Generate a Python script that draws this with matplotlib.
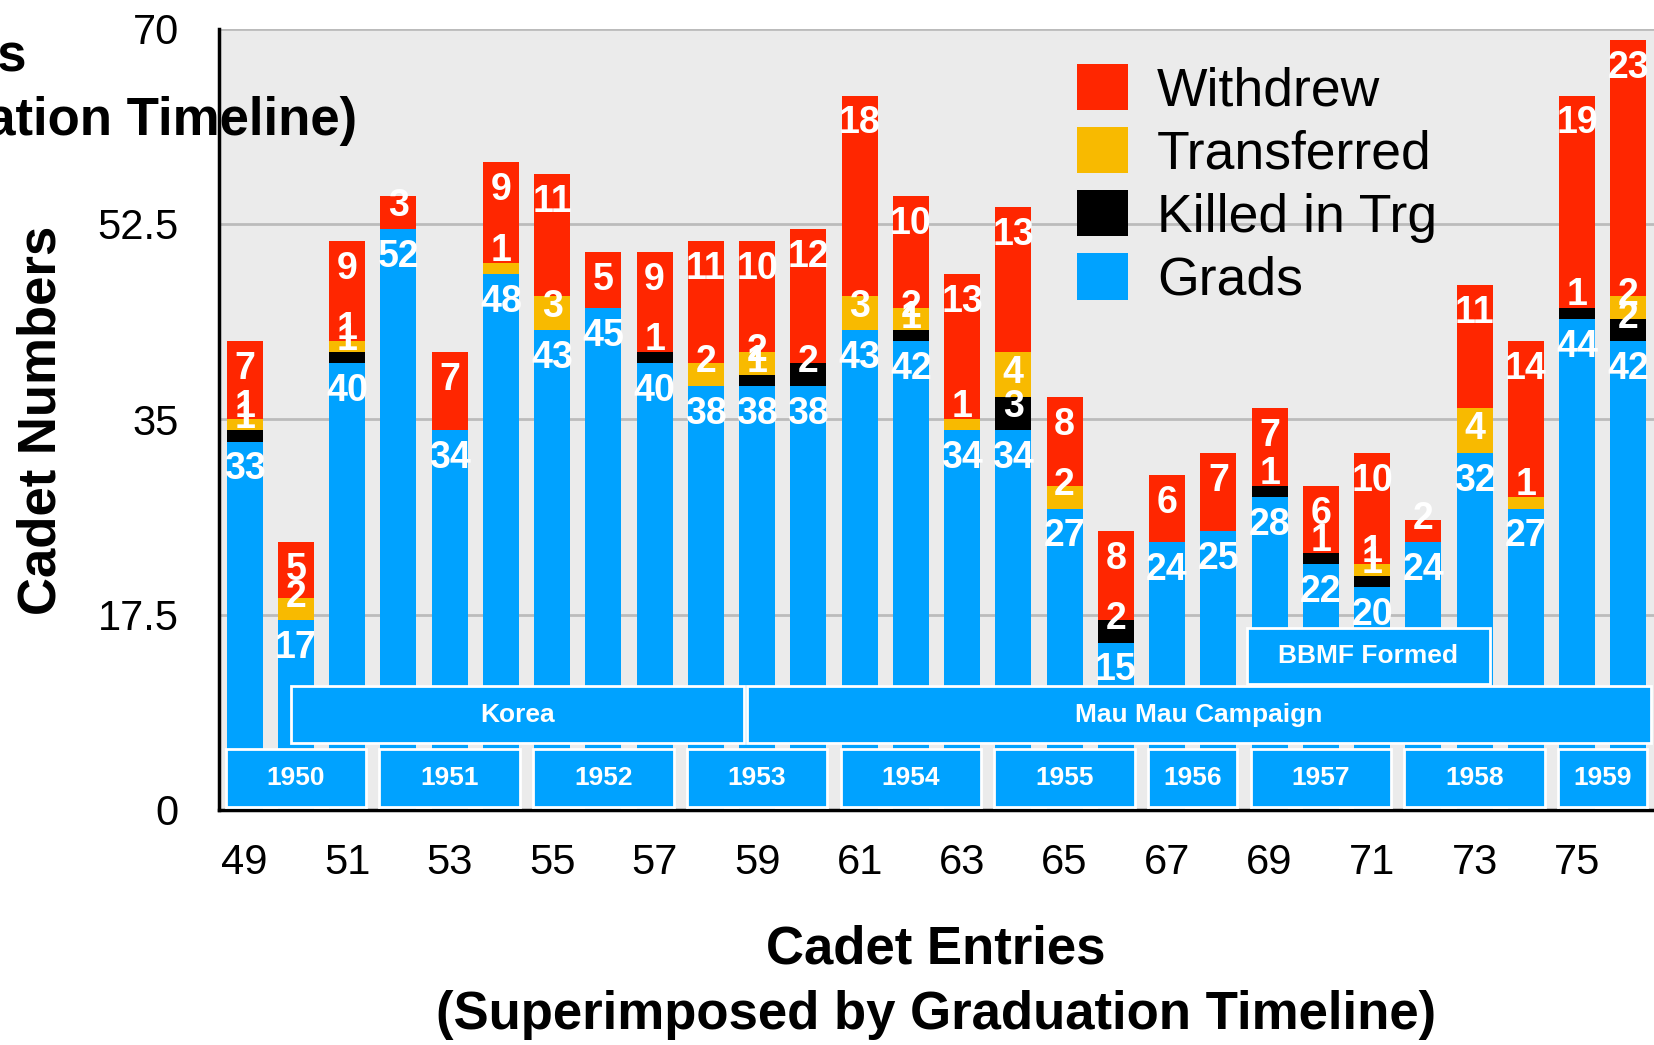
import matplotlib.pyplot as plt
from matplotlib.patches import Rectangle

plt.rcParams['font.family'] = ['Liberation Sans', 'DejaVu Sans']

# cadet entry numbers and what happened to each entry
entries = [49, 50, 51, 52, 53, 54, 55, 56, 57, 58, 59, 60, 61, 62,
           63, 64, 65, 66, 67, 68, 69, 70, 71, 72, 73, 74, 75, 76]
grads = [33, 17, 40, 52, 34, 48, 43, 45, 40, 38, 38, 38, 43, 42,
         34, 34, 27, 15, 24, 25, 28, 22, 20, 24, 32, 27, 44, 42]
killed = [1, 0, 1, 0, 0, 0, 0, 0, 1, 0, 1, 2, 0, 1,
          0, 3, 0, 2, 0, 0, 1, 1, 1, 0, 0, 0, 1, 2]
transferred = [1, 2, 1, 0, 0, 1, 3, 0, 0, 2, 2, 0, 3, 2,
               1, 4, 2, 0, 0, 0, 0, 0, 1, 0, 4, 1, 0, 2]
withdrew = [7, 5, 9, 3, 7, 9, 11, 5, 9, 11, 10, 12, 18, 10,
            13, 13, 8, 8, 6, 7, 7, 6, 10, 2, 11, 14, 19, 23]

# graduation years: first and last entry graduating that year
grad_years = ['1950', '1951', '1952', '1953', '1954',
              '1955', '1956', '1957', '1958', '1959']
year_first = [49, 52, 55, 58, 61, 64, 67, 69, 72, 75]
year_last = [51, 54, 57, 60, 63, 66, 68, 71, 74, 76]

# campaigns over the timeline (in entry units)
campaigns = ['Korea', 'Mau Mau Campaign']
campaign_start = [49.9, 58.8]
campaign_end = [58.75, 76.45]
events = ['BBMF Formed']
event_start = [68.55]
event_end = [73.3]

BLUE = '#00A2FF'
colors = {'Grads': BLUE, 'Killed in Trg': '#000000',
          'Transferred': '#F8BA00', 'Withdrew': '#FF2600'}

fig = plt.figure(figsize=(16.54, 10.45), dpi=100)
ax = fig.add_axes([0.1324, 0.2249, 0.8676, 0.7478])
ax.set_facecolor('#EBEBEB')

series = [('Grads', grads), ('Killed in Trg', killed),
          ('Transferred', transferred), ('Withdrew', withdrew)]
bottom = [0] * len(entries)
handles = {}
for name, vals in series:
    bars = ax.bar(entries, vals, width=0.7, bottom=bottom,
                  color=colors[name], edgecolor='none', zorder=2)
    handles[name] = bars
    for x, b, v in zip(entries, bottom, vals):
        if v > 0:
            y = max(b + v - 2.5, b + 2.1)
            ax.text(x, y, str(v), ha='center', va='center', color='white',
                    fontsize=27, fontweight='bold', zorder=4)
    bottom = [b + v for b, v in zip(bottom, vals)]


def timeline_box(x0, x1, y0, y1, label):
    ax.add_patch(Rectangle((x0, y0), x1 - x0, y1 - y0, facecolor=BLUE,
                           edgecolor='white', linewidth=2, zorder=5))
    ax.text((x0 + x1) / 2, (y0 + y1) / 2, label, ha='center', va='center',
            color='white', fontsize=19, fontweight='bold', zorder=6)


for lab, a, b in zip(grad_years, year_first, year_last):
    timeline_box(a - 0.37, b + 0.37, 0.3, 5.5, lab)
for lab, a, b in zip(campaigns, campaign_start, campaign_end):
    timeline_box(a, b, 6.0, 11.1, lab)
for lab, a, b in zip(events, event_start, event_end):
    timeline_box(a, b, 11.3, 16.3, lab)

ax.set_xlim(48.5, 76.5)
ax.set_ylim(0, 70)
ax.set_yticks([0, 17.5, 35, 52.5, 70])
ax.set_yticklabels(['0', '17.5', '35', '52.5', '70'])
ax.set_xticks(entries[::2])
ax.set_xticklabels([str(e) for e in entries[::2]])
ax.tick_params(axis='both', length=0, labelsize=30)
ax.tick_params(axis='y', pad=29)
ax.tick_params(axis='x', pad=24)
ax.yaxis.grid(True, color='#BBBBBB', linewidth=2)
ax.set_axisbelow(True)
for side in ['top', 'right']:
    ax.spines[side].set_visible(False)
for side in ['left', 'bottom']:
    ax.spines[side].set_linewidth(2.5)
    ax.spines[side].set_color('black')

order = ['Withdrew', 'Transferred', 'Killed in Trg', 'Grads']
ax.legend([handles[n] for n in order], order, loc='upper left',
          bbox_to_anchor=(1077 / 1654, 1 - 64 / 1045),
          bbox_transform=fig.transFigure, frameon=False, fontsize=38.5,
          handlelength=0.95, handleheight=0.95, handletextpad=0.55,
          labelspacing=0.2, borderpad=0, borderaxespad=0)

label_text = 'Cadet Entries\n(Superimposed by Graduation Timeline)'
fig.text(0.566, 0.115, label_text, ha='center', va='top', linespacing=1.38,
         multialignment='center', fontsize=38, fontweight='bold')
fig.text(357 / 1654, 0.97, label_text, ha='right', va='top', linespacing=1.38,
         multialignment='center', fontsize=38, fontweight='bold')
fig.text(42 / 1654, 0.5976, 'Cadet Numbers', rotation=90, ha='center',
         va='center', fontsize=38, fontweight='bold')

fig.savefig('out.png', dpi=100)
